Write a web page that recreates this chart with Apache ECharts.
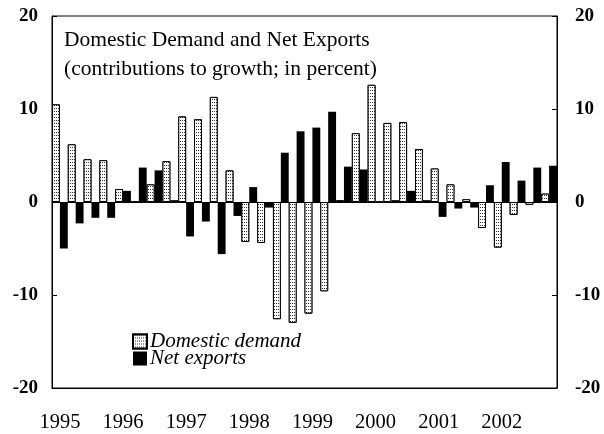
<!DOCTYPE html>
<html>
<head>
<meta charset="utf-8">
<script src="https://cdn.jsdelivr.net/npm/echarts@6/dist/echarts.min.js"></script>
<style>
html,body{margin:0;padding:0;background:#fff;}
#chart{width:604px;height:434px;}
</style>
</head>
<body>
<div id="chart"></div>
<script>
// Quarterly categories 1995Q1 .. 2002Q4
var years = ['1995','1996','1997','1998','1999','2000','2001','2002'];
var categories = [];
years.forEach(function(y){ ['Q1','Q2','Q3','Q4'].forEach(function(q){ categories.push(y + ' ' + q); }); });

var domesticDemand = [
  10.5, 6.2, 4.6, 4.5,
  1.4, 0.0, 1.9, 4.4,
  9.2, 8.9, 11.3, 3.4,
  -4.3, -4.4, -12.6, -13.0,
  -12.0, -9.6, 0.2, 7.4,
  12.6, 8.5, 8.6, 5.7,
  3.6, 1.9, 0.3, -2.8,
  -4.9, -1.4, -0.3, 0.9
];
var netExports = [
  -5.0, -2.3, -1.7, -1.7,
  1.2, 3.7, 3.4, 0.2,
  -3.7, -2.1, -5.6, -1.5,
  1.6, -0.6, 5.3, 7.6,
  8.0, 9.7, 3.8, 3.5,
  0.1, 0.2, 1.2, 0.2,
  -1.6, -0.7, -0.6, 1.8,
  4.3, 2.3, 3.7, 3.9
];
var yTicks = [-20, -10, 0, 10, 20];
var titleLines = ['Domestic Demand and Net Exports', '(contributions to growth; in percent)'];
var seriesNames = ['Domestic demand', 'Net exports'];

var FONT = '"Liberation Serif", "Times New Roman", serif';
var chart = echarts.init(document.getElementById('chart'), null, {renderer: 'canvas'});

function yAxisDef(pos) {
  return {
    type: 'value', position: pos, min: yTicks[0], max: yTicks[yTicks.length - 1], interval: 10,
    axisLine: {show: true, lineStyle: {color: '#000', width: 1}},
    axisTick: {show: true, inside: true, length: 5, lineStyle: {color: '#000'}},
    splitLine: {show: false},
    axisLabel: {
      show: true, color: '#000', fontFamily: FONT, fontSize: 19, fontWeight: 'bold',
      margin: pos === 'left' ? 14 : 18,
      align: pos === 'left' ? 'right' : 'left'
    }
  };
}

chart.setOption({
  animation: false,
  backgroundColor: '#fff',
  grid: {left: 52, right: 47, top: 16, bottom: 46, show: true, borderColor: '#000', borderWidth: 1},
  title: {
    text: titleLines.join('\n'),
    left: 64, top: 26, padding: 0,
    textStyle: {fontFamily: FONT, fontSize: 21.5, fontWeight: 'normal', color: '#000', lineHeight: 29}
  },
  legend: {
    orient: 'vertical', left: 132, top: 331, padding: 0,
    itemWidth: 14, itemHeight: 14, itemGap: -4,
    icon: 'rect',
    textStyle: {fontFamily: FONT, fontSize: 21, fontStyle: 'italic', color: '#000', padding: [0, 0, 0, -2]},
    data: seriesNames
  },
  xAxis: {
    type: 'category', data: categories, position: 'bottom',
    axisLine: {show: true, onZero: false, lineStyle: {color: '#000'}},
    axisTick: {show: false},
    axisLabel: {
      interval: 3, margin: 24, color: '#000', fontFamily: FONT, fontSize: 20.5,
      formatter: function (v) { return v.split(' ')[0]; }
    },
    splitLine: {show: false}
  },
  yAxis: [yAxisDef('left'), yAxisDef('right')],
  series: [
    {
      name: seriesNames[0], type: 'bar', data: domesticDemand,
      barGap: '0%', barCategoryGap: '0%',
      itemStyle: {
        color: '#ffffff', borderColor: '#000', borderWidth: 1,
        decal: {symbol: 'rect', symbolSize: 1, color: 'rgba(0,0,0,0.8)', backgroundColor: '#fff',
                dashArrayX: [1, 1], dashArrayY: [1, 2], rotation: 0}
      },
      markLine: {
        silent: true, symbol: 'none', label: {show: false},
        lineStyle: {color: '#000', width: 1, type: 'solid'},
        data: [{yAxis: 0}]
      }
    },
    {
      name: seriesNames[1], type: 'bar', data: netExports,
      barGap: '0%', barCategoryGap: '0%',
      itemStyle: {color: '#000', borderColor: '#000', borderWidth: 0}
    }
  ]
});
</script>
</body>
</html>
